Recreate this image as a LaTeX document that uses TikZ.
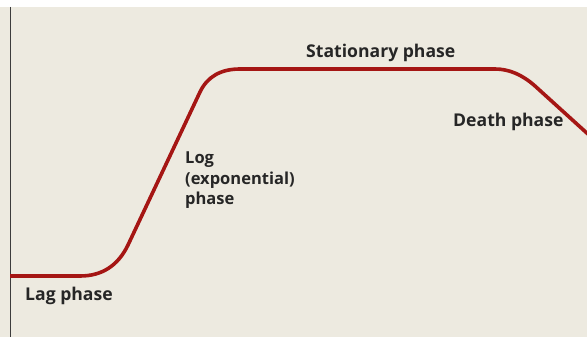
\documentclass[tikz,border=0pt]{standalone}
\usepackage{fontspec}
\setmainfont{Open Sans}
\usepackage{tikz}

\definecolor{paper}{RGB}{237,234,224}
\definecolor{curvered}{RGB}{165,22,20}
\definecolor{axisgray}{RGB}{60,60,60}

\tikzset{
  phase/.style={anchor=base west,inner sep=0pt,font=\fontsize{17.6}{20}\selectfont\bfseries,text=black!85},
  growth/.style={draw=curvered,line width=3.6pt,line join=round},
}

\begin{document}
\begin{tikzpicture}[x=1pt,y=-1pt]
\useasboundingbox (0,0) rectangle (587,337);
\fill[white] (0,0) rectangle (587,337);
\fill[paper] (0,7) rectangle (587,337);
\draw[axisgray,line width=1.8pt] (10.5,7) -- (10.5,337);

% growth curve
\begin{scope}
\clip (0,0) rectangle (587,337);
\draw[growth] (10,276) -- (80,276) .. controls (102,276) and (118,265.7) .. (128,245)
  -- (200,92) .. controls (207.3,76.7) and (220.7,69) .. (240,69)
  -- (495,69) .. controls (509,69) and (522.3,74.7) .. (535,86) -- (600,145);
\end{scope}

\node[phase] (stat) at (306,58) {Stationary phase};
\node[phase] (death) at (453,126) {Death phase};
\node[phase,align=left,font=\fontsize{16.5}{20}\selectfont\bfseries] (log) at (185,204) {Log\\(exponential)\\phase};
\node[phase] (lag) at (25,300) {Lag phase};

\end{tikzpicture}
\end{document}
